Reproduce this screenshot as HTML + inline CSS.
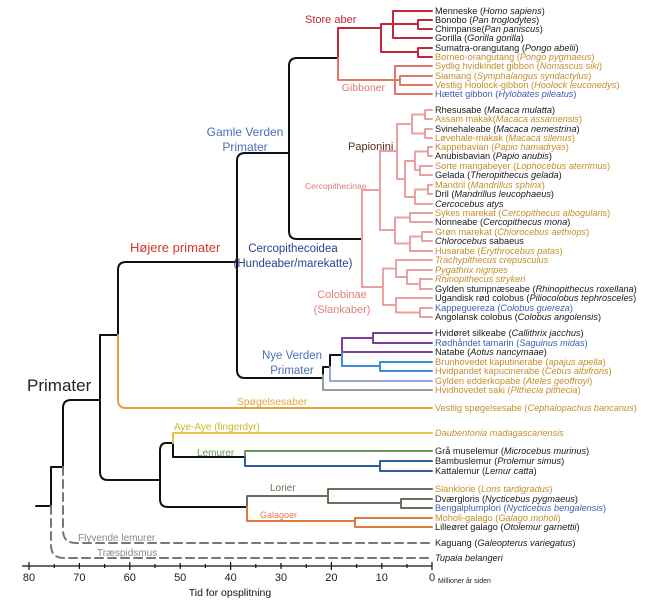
<!DOCTYPE html>
<html><head><meta charset="utf-8">
<style>
html,body{margin:0;padding:0;background:#fff;}
svg{display:block;}
text{font-family:"Liberation Sans",sans-serif;}
.lf{font-size:9.2px;}
.k{fill:#1a1a1a}.o{fill:#c58d2c}.b{fill:#3a5fb5}
.i{font-style:italic}
</style></head><body>
<svg width="667" height="600" viewBox="0 0 667 600" xmlns="http://www.w3.org/2000/svg">
<g fill="none" stroke-width="2" stroke-linecap="round" stroke-linejoin="round">
<!-- black backbone -->
<g stroke="#111">
<path d="M36 506H51V467H63"/>
<path d="M63 467V408Q63 400 71 400H100"/>
<path d="M100 335V472Q100 480 108 480H160"/>
<path d="M100 335H118V270Q118 262 126 262H237"/>
<path d="M237 370V161Q237 153 245 153H289"/>
<path d="M237 370Q237 378 245 378H323"/>
<path d="M289 153V66Q289 58 297 58H338"/>
<path d="M289 153V231Q289 239 297 239H362"/>
<path d="M160 480V451Q160 443 166 443H173V457H245"/>
<path d="M160 480V499Q160 507 168 507H247"/>
<path d="M323 375V367H330V355H342"/>
</g>
<!-- dashed -->
<g stroke="#777" stroke-dasharray="8,5">
<path d="M63 467V530Q63 543 76 543H432"/>
<path d="M51 506V545Q51 558 64 558H432"/>
</g>
<!-- tarsier -->
<path stroke="#e3a33a" d="M118 335V400Q118 408 126 408H432"/>
<!-- aye-aye -->
<path stroke="#e2c54a" d="M173 443V433H432"/>
<!-- lemurs -->
<path stroke="#6a9a55" d="M245 457V451H432"/>
<path stroke="#2c5f9e" d="M245 457V466H380M380 461V471M380 461H432M380 471H432"/>
<!-- lorises -->
<path stroke="#6b6e5a" d="M247 507V496H328M328 489V503M328 489H432M328 503H401M401 499V508M401 499H432M401 508H432"/>
<path stroke="#e07a3a" d="M247 507V521H355M355 518V527M355 518H432M355 527H432"/>
<!-- great apes -->
<g stroke="#c0273a">
<path d="M338 58V28H381M381 24V52M381 24H393M393 11V38M393 11H432M393 38H432M393 24H418M418 20V29M418 20H432M418 29H432"/>
<path d="M381 52H418M418 48V57M418 48H432M418 57H432"/>
</g>
<!-- gibbons -->
<path stroke="#e0786a" d="M338 58V80H395M395 66V94M395 66H432M395 94H432M395 80H400M400 76V85M400 76H432M400 85H432"/>
<!-- cercopithecidae -->
<g stroke="#e8a0a0">
<path d="M362 190V287"/>
<path d="M362 190H380M380 151V230"/>
<path d="M380 151H397M397 124V179"/>
<path d="M397 124H412M412 114.5V133.5M412 114.5H425M412 133.5H425M425 110V119M425 129V138M425 110H432M425 119H432M425 129H432M425 138H432"/>
<path d="M397 179H405M405 161V197"/>
<path d="M405 161H415M415 151.5V170M415 151.5H428M428 147V156M428 147H432M428 156H432M415 170H420M420 166V175M420 166H432M420 175H432"/>
<path d="M405 197H415M415 189.5V204M415 189.5H428M428 185V194M428 185H432M428 194H432M415 204H432"/>
<path d="M380 230H395M395 217.5V243.5M395 217.5H410M410 213V222M410 213H432M410 222H432M395 243.5H410M410 236.5V251M410 251H432M410 236.5H422M422 232V241M422 232H432M422 241H432"/>
<path d="M362 287H383M383 268.5V305"/>
<path d="M383 268.5H396M396 260V277M396 260H432M396 277H407M407 270V284M407 270H432M407 284H420M420 279V289M420 279H432M420 289H432"/>
<path d="M383 305H396M396 298V312.5M396 298H432M396 312.5H420M420 308V317M420 308H432M420 317H432"/>
</g>
<!-- new world -->
<path stroke="#7a3f9a" d="M342 338V352M342 338H373M373 333V343M373 333H432M373 343H432M342 352H432"/>
<path stroke="#3b8fd0" d="M342 352V366H380M380 362V371M380 362H432M380 371H432"/>
<path stroke="#9aa6d8" d="M330 367V381H432"/>
<path stroke="#999" d="M323 375V390H432"/>
</g>

<!-- axis -->
<g stroke="#111" stroke-width="1.2">
<path d="M22 566H432"/>
<path d="M29 562V570M79.4 563V569M129.8 562V570M180.2 563V569M230.6 562V570M281 563V569M331.4 562V570M381.8 563V569M432 562V570M54.2 564V568M104.6 564V568M155 564V568M205.4 564V568M255.8 564V568M306.2 564V568M356.6 564V568M407 564V568"/>
</g>
<g font-size="11" fill="#222" text-anchor="middle">
<text x="29" y="581">80</text><text x="79.4" y="581">70</text><text x="129.8" y="581">60</text><text x="180.2" y="581">50</text><text x="230.6" y="581">40</text><text x="281" y="581">30</text><text x="331.4" y="581">20</text><text x="381.8" y="581">10</text><text x="432" y="581">0</text>
</g>
<text x="438" y="583" font-size="7" fill="#222">Millioner år siden</text>
<text x="230" y="596" font-size="10.5" fill="#111" text-anchor="middle">Tid for opsplitning</text>

<!-- clade labels -->
<text x="305" y="23" font-size="11" fill="#c0273a">Store aber</text>
<text x="385" y="91" font-size="10.5" fill="#e0786a" text-anchor="end">Gibboner</text>
<text x="245" y="136" font-size="12" fill="#4a6fb5" text-anchor="middle">Gamle Verden</text>
<text x="245" y="151" font-size="12" fill="#4a6fb5" text-anchor="middle">Primater</text>
<text x="348" y="150" font-size="11" fill="#5a2a1a">Papionini</text>
<text x="305" y="189" font-size="8.5" fill="#e0787a">Cercopithecinae</text>
<text x="130" y="252" font-size="13" fill="#d03a2a">Højere primater</text>
<text x="293" y="252" font-size="11.5" fill="#2f3f8f" text-anchor="middle">Cercopithecoidea</text>
<text x="293" y="267" font-size="11.5" fill="#2f3f8f" text-anchor="middle">(Hundeaber/marekatte)</text>
<text x="342" y="298" font-size="11" fill="#e0807a" text-anchor="middle">Colobinae</text>
<text x="342" y="313" font-size="11" fill="#e0807a" text-anchor="middle">(Slankaber)</text>
<text x="292" y="359" font-size="11.5" fill="#4a6fb5" text-anchor="middle">Nye Verden</text>
<text x="292" y="374" font-size="11.5" fill="#4a6fb5" text-anchor="middle">Primater</text>
<text x="27" y="391" font-size="17" fill="#222">Primater</text>
<text x="272" y="405" font-size="10.5" fill="#e3a33a" text-anchor="middle">Spøgelsesaber</text>
<text x="174" y="430" font-size="10" fill="#d4b52a">Aye-Aye (fingerdyr)</text>
<text x="197" y="456" font-size="10" fill="#6a9a55">Lemurer</text>
<text x="270" y="491" font-size="10" fill="#6b6e5a">Lorier</text>
<text x="260" y="518" font-size="9" fill="#e07a5a">Galagoer</text>
<text x="78" y="541" font-size="10" fill="#888">Flyvende lemurer</text>
<text x="97" y="556" font-size="10" fill="#888">Træspidsmus</text>

<!-- leaves -->
<g class="lf">
<text x="435" y="14" class="k">Menneske (<tspan class="i">Homo sapiens</tspan>)</text>
<text x="435" y="23" class="k">Bonobo (<tspan class="i">Pan troglodytes</tspan>)</text>
<text x="435" y="32" class="k">Chimpanse(<tspan class="i">Pan paniscus</tspan>)</text>
<text x="435" y="41" class="k">Gorilla (<tspan class="i">Gorilla gorilla</tspan>)</text>
<text x="435" y="51" class="k">Sumatra-orangutang (<tspan class="i">Pongo abelii</tspan>)</text>
<text x="435" y="60" class="o">Borneo-orangutang (<tspan class="i">Pongo pygmaeus</tspan>)</text>
<text x="435" y="69" class="o">Sydlig hvidkindet gibbon (<tspan class="i">Nomascus siki</tspan>)</text>
<text x="435" y="79" class="o">Siamang (<tspan class="i">Symphalangus syndactylus</tspan>)</text>
<text x="435" y="88" class="o">Vestlig Hoolock-gibbon (<tspan class="i">Hoolock leuconedys</tspan>)</text>
<text x="435" y="97" class="b">Hættet gibbon (<tspan class="i">Hylobates pileatus</tspan>)</text>
<text x="435" y="113" class="k">Rhesusabe (<tspan class="i">Macaca mulatta</tspan>)</text>
<text x="435" y="122" class="o">Assam makak(<tspan class="i">Macaca assamensis</tspan>)</text>
<text x="435" y="132" class="k">Svinehaleabe (<tspan class="i">Macaca nemestrina</tspan>)</text>
<text x="435" y="141" class="o">Løvehale-makak (<tspan class="i">Macaca silenus</tspan>)</text>
<text x="435" y="150" class="o">Kappebavian (<tspan class="i">Papio hamadryas</tspan>)</text>
<text x="435" y="159" class="k">Anubisbavian (<tspan class="i">Papio anubis</tspan>)</text>
<text x="435" y="169" class="o">Sorte mangabeyer (<tspan class="i">Lophocebus aterrimus</tspan>)</text>
<text x="435" y="178" class="k">Gelada (<tspan class="i">Theropithecus gelada</tspan>)</text>
<text x="435" y="188" class="o">Mandril (<tspan class="i">Mandrillus sphinx</tspan>)</text>
<text x="435" y="197" class="k">Dril (<tspan class="i">Mandrillus leucophaeus</tspan>)</text>
<text x="435" y="207" class="k"><tspan class="i">Cercocebus atys</tspan></text>
<text x="435" y="216" class="o">Sykes marekat (<tspan class="i">Cercopithecus albogularis</tspan>)</text>
<text x="435" y="225" class="k">Nonneabe (<tspan class="i">Cercopithecus mona</tspan>)</text>
<text x="435" y="235" class="o">Grøn marekat (<tspan class="i">Chlorocebus aethiops</tspan>)</text>
<text x="435" y="244" class="k"><tspan class="i">Chlorocebus</tspan> sabaeus</text>
<text x="435" y="254" class="o">Husarabe (<tspan class="i">Erythrocebus patas</tspan>)</text>
<text x="435" y="263" class="o i">Trachypithecus crepusculus</text>
<text x="435" y="273" class="o i">Pygathrix nigripes</text>
<text x="435" y="282" class="o i">Rhinopithecus strykeri</text>
<text x="435" y="292" class="k">Gylden stumpnæseabe (<tspan class="i">Rhinopithecus roxellana</tspan>)</text>
<text x="435" y="301" class="k">Ugandisk rød colobus (<tspan class="i">Piliocolobus tephrosceles</tspan>)</text>
<text x="435" y="311" class="b">Kappeguereza (<tspan class="i">Colobus guereza</tspan>)</text>
<text x="435" y="320" class="k">Angolansk colobus (<tspan class="i">Colobus angolensis</tspan>)</text>
<text x="435" y="336" class="k">Hvidøret silkeabe (<tspan class="i">Callithrix jacchus</tspan>)</text>
<text x="435" y="346" class="b">Rødhåndet tamarin (<tspan class="i">Saguinus midas</tspan>)</text>
<text x="435" y="355" class="k">Natabe (<tspan class="i">Aotus nancymaae</tspan>)</text>
<text x="435" y="365" class="o">Brunhovedet kaputinerabe (<tspan class="i">apajus apella</tspan>)</text>
<text x="435" y="374" class="o">Hvidpandet kapucinerabe (<tspan class="i">Cebus albifrons</tspan>)</text>
<text x="435" y="384" class="o">Gylden edderkopabe (<tspan class="i">Ateles geoffroyi</tspan>)</text>
<text x="435" y="393" class="o">Hvidhovedet saki (<tspan class="i">Pithecia pithecia</tspan>)</text>
<text x="435" y="411" class="o">Vestlig spøgelsesabe (<tspan class="i">Cephalopachus bancanus</tspan>)</text>
<text x="435" y="436" class="o i">Daubentonia madagascariensis</text>
<text x="435" y="454" class="k">Grå muselemur (<tspan class="i">Microcebus murinus</tspan>)</text>
<text x="435" y="464" class="k">Bambuslemur (<tspan class="i">Prolemur simus</tspan>)</text>
<text x="435" y="474" class="k">Kattalemur (<tspan class="i">Lemur catta</tspan>)</text>
<text x="435" y="492" class="o">Slanklorie (<tspan class="i">Loris tardigradus</tspan>)</text>
<text x="435" y="502" class="k">Dværgloris (<tspan class="i">Nycticebus pygmaeus</tspan>)</text>
<text x="435" y="511" class="b">Bengalplumplori (<tspan class="i">Nycticebus bengalensis</tspan>)</text>
<text x="435" y="521" class="o">Moholi-galago (<tspan class="i">Galago moholi</tspan>)</text>
<text x="435" y="530" class="k">Lilleøret galago (<tspan class="i">Otolemur garnettii</tspan>)</text>
<text x="435" y="546" class="k">Kaguang (<tspan class="i">Galeopterus variegatus</tspan>)</text>
<text x="435" y="561" class="k i">Tupaia belangeri</text>
</g>
</svg>
</body></html>
